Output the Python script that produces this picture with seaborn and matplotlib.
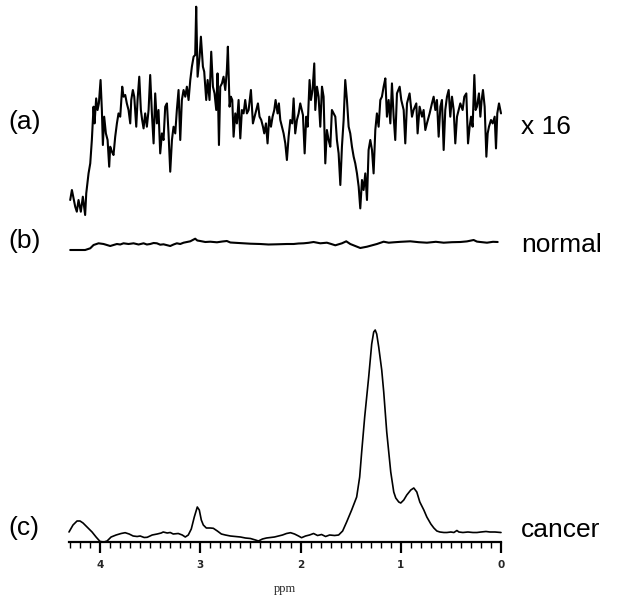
import numpy as np
import pandas as pd
import matplotlib
matplotlib.use("Agg")
import matplotlib.pyplot as plt
from matplotlib.ticker import MultipleLocator, FixedLocator
import seaborn as sns

# ---------------- data ----------------
# chemical shift axis ticks
tick_values = [4, 3, 2, 1, 0]
tick_labels = ["4", "3", "2", "1", "0"]

# (a) normal spectrum magnified x16
ppm_a = [4.298, 4.281, 4.248, 4.232, 4.215, 4.192, 4.172, 4.149, 4.138, 4.115, 4.098, 4.082, 4.065, 4.055,
         4.039, 4.025, 4.012, 3.995, 3.982, 3.972, 3.959, 3.942, 3.925, 3.909, 3.899, 3.882, 3.866, 3.849,
         3.832, 3.816, 3.799, 3.779, 3.766, 3.749, 3.733, 3.716, 3.699, 3.689, 3.673, 3.659, 3.639, 3.626,
         3.609, 3.593, 3.580, 3.566, 3.550, 3.533, 3.516, 3.500, 3.483, 3.466, 3.450, 3.433, 3.417, 3.400,
         3.383, 3.367, 3.350, 3.333, 3.317, 3.300, 3.283, 3.267, 3.250, 3.234, 3.217, 3.200, 3.184, 3.167,
         3.150, 3.134, 3.117, 3.100, 3.084, 3.067, 3.051, 3.041, 3.027, 3.007, 2.994, 2.974, 2.961, 2.941,
         2.927, 2.908, 2.891, 2.874, 2.858, 2.841, 2.828, 2.814, 2.801, 2.784, 2.768, 2.751, 2.735, 2.725,
         2.708, 2.695, 2.681, 2.668, 2.651, 2.635, 2.618, 2.601, 2.585, 2.568, 2.552, 2.535, 2.518, 2.495,
         2.475, 2.458, 2.442, 2.425, 2.409, 2.392, 2.375, 2.362, 2.345, 2.329, 2.312, 2.295, 2.279, 2.262,
         2.249, 2.229, 2.216, 2.202, 2.186, 2.169, 2.152, 2.136, 2.119, 2.102, 2.083, 2.069, 2.053, 2.036,
         2.019, 2.003, 1.976, 1.959, 1.943, 1.929, 1.910, 1.896, 1.880, 1.863, 1.853, 1.836, 1.820, 1.803,
         1.786, 1.770, 1.753, 1.737, 1.720, 1.703, 1.687, 1.670, 1.653, 1.637, 1.620, 1.603, 1.587, 1.570,
         1.554, 1.537, 1.520, 1.504, 1.487, 1.470, 1.454, 1.437, 1.420, 1.404, 1.387, 1.371, 1.354, 1.337,
         1.321, 1.304, 1.287, 1.271, 1.254, 1.238, 1.221, 1.204, 1.188, 1.171, 1.154, 1.138, 1.121, 1.104,
         1.088, 1.071, 1.055, 1.038, 1.011, 0.995, 0.971, 0.955, 0.938, 0.912, 0.888, 0.872, 0.845, 0.832,
         0.812, 0.788, 0.772, 0.755, 0.739, 0.712, 0.689, 0.672, 0.655, 0.639, 0.622, 0.605, 0.589, 0.572,
         0.556, 0.539, 0.522, 0.506, 0.489, 0.472, 0.456, 0.439, 0.422, 0.406, 0.383, 0.366, 0.346, 0.329,
         0.313, 0.299, 0.283, 0.266, 0.253, 0.240, 0.220, 0.206, 0.193, 0.180, 0.163, 0.146, 0.133, 0.120,
         0.100, 0.083, 0.063, 0.050, 0.037, 0.020, 0.000]
int_a = [16.7, 26.7, 10, 5, 16.7, 5, 20, 1.7, 23.3, 43.3, 53.3, 76.7, 110, 93.3,
         118.3, 106.7, 113.3, 136.7, 106.7, 71.7, 100, 83.3, 76.7, 50, 70, 65, 61.7, 80,
         93.3, 103.3, 100, 130, 120, 121.7, 113.3, 106.7, 93.3, 116.7, 126.7, 120, 90, 116.7,
         140, 106.7, 96.7, 88.3, 103.3, 90, 106.7, 141.7, 103.3, 73.3, 123.3, 93.3, 106.7, 63.3,
         83.3, 76.7, 110, 113.3, 83.3, 45, 76.7, 90, 83.3, 106.7, 126.7, 76.7, 116.7, 126.7,
         120, 130, 116.7, 136.7, 150, 160, 161.7, 210, 140, 160, 180, 150, 145, 116.7,
         136.7, 116.7, 165, 130, 123.3, 106.7, 143.3, 71.7, 130, 133.3, 140, 126.7, 146.7, 170,
         110, 120, 116.7, 80, 103.3, 93.3, 116.7, 78.3, 106.7, 103.3, 116.7, 103.3, 106.7, 126.7,
         93.3, 100, 106.7, 113.3, 100, 96.7, 90, 83.3, 93.3, 73.3, 100, 90, 100, 106.7,
         116.7, 103.3, 113.3, 96.7, 90, 83.3, 73.3, 56.7, 80, 96.7, 93.3, 118.3, 83.3, 96.7,
         103.3, 113.3, 101.7, 63.3, 100, 90, 136.7, 116.7, 126.7, 153.3, 106.7, 130, 120, 90,
         130, 120, 53.3, 86.7, 76.7, 70, 106.7, 103.3, 100, 76.7, 63.3, 31.7, 70, 96.7,
         136.7, 116.7, 90, 83.3, 70, 60, 53.3, 43.3, 30, 8.3, 36.7, 26.7, 43.3, 16.7,
         66.7, 76.7, 66.7, 43.3, 86.7, 103.3, 90, 116.7, 120, 130, 138.3, 100, 116.7, 93.3,
         133.3, 100, 76.7, 123.3, 130, 116.7, 106.7, 73.3, 113.3, 123.3, 100, 106.7, 113.3, 83.3,
         110, 100, 106.7, 86.7, 93.3, 103.3, 113.3, 120, 106.7, 116.7, 80, 110, 116.7, 66.7,
         106.7, 120, 126.7, 100, 120, 106.7, 73.3, 100, 106.7, 113.3, 106.7, 120, 123.3, 73.3,
         90, 100, 90, 141.7, 106.7, 110, 123.3, 100, 116.7, 126.7, 110, 60, 83.3, 90,
         96.7, 93.3, 100, 68.3, 103.3, 113.3, 103.3]

# (b) normal spectrum
ppm_b = [4.298, 4.149, 4.098, 4.065, 4.015, 3.965, 3.899, 3.866, 3.832, 3.799, 3.766, 3.716, 3.666, 3.616,
         3.566, 3.533, 3.500, 3.466, 3.433, 3.400, 3.367, 3.300, 3.267, 3.234, 3.200, 3.167, 3.100, 3.051,
         3.030, 3.001, 2.950, 2.901, 2.834, 2.780, 2.735, 2.700, 2.668, 2.568, 2.500, 2.402, 2.320, 2.236,
         2.136, 2.069, 2.020, 1.969, 1.920, 1.870, 1.803, 1.737, 1.700, 1.653, 1.587, 1.544, 1.504, 1.404,
         1.337, 1.238, 1.171, 1.120, 1.071, 1.000, 0.905, 0.820, 0.739, 0.650, 0.572, 0.490, 0.406, 0.340,
         0.273, 0.240, 0.206, 0.140, 0.080, 0.033]
int_b = [0, 0, 1.7, 5, 6.7, 6, 4, 5, 6, 5.5, 6.7, 6, 6.7, 5.5,
         6.7, 5.5, 6, 7, 6.7, 5.3, 5.7, 4, 5.5, 6.7, 6, 7.3, 8.7, 11.3,
         9.5, 9, 8, 8.3, 7.7, 8.5, 9, 7.5, 7.3, 6.7, 6.3, 6, 5.5, 5.7,
         6, 6, 6.5, 6.7, 7.2, 8, 6.7, 7.3, 6.2, 4.7, 6.7, 8.7, 6, 2,
         3.3, 6, 8.3, 7.3, 7.7, 8.2, 8.7, 7.8, 7.3, 8.2, 7.3, 7.8, 8, 8.6,
         10, 8.4, 8, 7.3, 8.2, 8]

# (c) cancer spectrum
ppm_c = [4.31, 4.27, 4.23, 4.20, 4.17, 4.12, 4.08, 4.04, 4.00, 3.96, 3.93, 3.89, 3.84, 3.79, 3.75,
         3.71, 3.67, 3.63, 3.60, 3.56, 3.53, 3.48, 3.43, 3.39, 3.37, 3.33, 3.30, 3.27, 3.22, 3.18,
         3.15, 3.12, 3.09, 3.06, 3.03, 3.01, 2.99, 2.97, 2.94, 2.90, 2.87, 2.83, 2.79, 2.75, 2.70,
         2.65, 2.60, 2.55, 2.50, 2.45, 2.42, 2.38, 2.34, 2.30, 2.26, 2.22, 2.18, 2.14, 2.10, 2.06,
         2.02, 1.99, 1.95, 1.91, 1.87, 1.83, 1.79, 1.75, 1.71, 1.66, 1.62, 1.58, 1.54, 1.49, 1.44,
         1.41, 1.39, 1.36, 1.32, 1.29, 1.27, 1.255, 1.24, 1.22, 1.19, 1.17, 1.14, 1.10, 1.07, 1.05,
         1.02, 1.00, 0.97, 0.94, 0.90, 0.87, 0.84, 0.81, 0.77, 0.74, 0.70, 0.67, 0.64, 0.61, 0.57,
         0.54, 0.50, 0.47, 0.44, 0.42, 0.38, 0.33, 0.28, 0.24, 0.20, 0.15, 0.11, 0.06, 0.00]
int_c = [10, 17, 21, 21, 19, 14, 10, 5, 0.5, 0, 1, 5, 7, 8.5, 9.3,
         8, 6, 5.5, 6, 4.5, 4.7, 7, 8, 9, 10, 9, 9.5, 8, 8.5, 7,
         5, 7, 13, 25, 35, 32, 22, 17, 14, 14, 13.7, 11, 8, 7, 6,
         5.5, 5, 4, 3.5, 2, 1, 3, 4, 4.5, 5, 6, 7, 8.5, 9.3, 8,
         6, 4.3, 6, 7, 8.5, 6.5, 7.5, 5.5, 7, 6.5, 7, 11, 20, 32, 45,
         65, 90, 125, 165, 198, 210, 212, 208, 195, 172, 150, 110, 70, 50, 44,
         40, 39, 42, 47, 52, 54, 50, 40, 32, 25, 18, 14, 11, 10, 9.5,
         9.5, 10, 9.5, 11.5, 10, 9.5, 10, 9.5, 9.5, 10, 10.5, 10, 10, 9.5]

panel_labels = ["(a)", "(b)", "(c)"]
side_labels = ["x 16", "normal", "cancer"]
x_label = "ppm"

# ---------------- figure ----------------
sns.set_theme(style="white")
plt.rcParams["font.family"] = ["Liberation Sans", "DejaVu Sans"]

W, H = 634, 600
fig = plt.figure(figsize=(W / 100, H / 100), dpi=100)
ax = fig.add_axes([69 / W, 58 / H, 432 / W, 542 / H])
ax.set_facecolor("white")

off_a, off_b, off_c = 325.3, 292.0, 0.0
df_a = pd.DataFrame({"ppm": ppm_a, "y": np.array(int_a) + off_a})
df_b = pd.DataFrame({"ppm": ppm_b, "y": np.array(int_b) + off_b})
df_c = pd.DataFrame({"ppm": ppm_c, "y": np.array(int_c) + off_c})

sns.lineplot(data=df_a, x="ppm", y="y", ax=ax, color="black", lw=1.5, estimator=None, sort=False)
sns.lineplot(data=df_b, x="ppm", y="y", ax=ax, color="black", lw=1.5, estimator=None, sort=False)
sns.lineplot(data=df_c, x="ppm", y="y", ax=ax, color="black", lw=1.2, estimator=None, sort=False)
for ln in ax.lines:
    ln.set_clip_on(False)

ax.set_xlim(4.31, 0.0)
ax.set_ylim(0, 542)
for s in ["top", "left", "right"]:
    ax.spines[s].set_visible(False)
ax.spines["bottom"].set_color("black")
ax.spines["bottom"].set_linewidth(1.6)
ax.set_yticks([])
ax.xaxis.set_major_locator(FixedLocator(tick_values))
ax.set_xticklabels(tick_labels, fontsize=7.5, fontweight="bold", family="DejaVu Sans")
ax.xaxis.set_minor_locator(MultipleLocator(0.1))
ax.tick_params(axis="x", which="major", direction="out", length=8, width=1.6, color="black",
               pad=5, bottom=True)
ax.tick_params(axis="x", which="minor", direction="out", length=4.5, width=1.0, color="black",
               bottom=True)
ax.set_xlabel(x_label, fontsize=9, family="Liberation Serif", labelpad=9)
ax.set_ylabel("")

# labels
ly = [122, 241, 528]
ry = [127, 245, 530]
for lab, y in zip(panel_labels, ly):
    fig.text(8 / W, 1 - y / H, lab, fontsize=19, va="center", ha="left", color="black")
for lab, y in zip(side_labels, ry):
    fig.text(521 / W, 1 - y / H, lab, fontsize=19, va="center", ha="left", color="black")

fig.savefig("out.png", dpi=100, facecolor="white")
